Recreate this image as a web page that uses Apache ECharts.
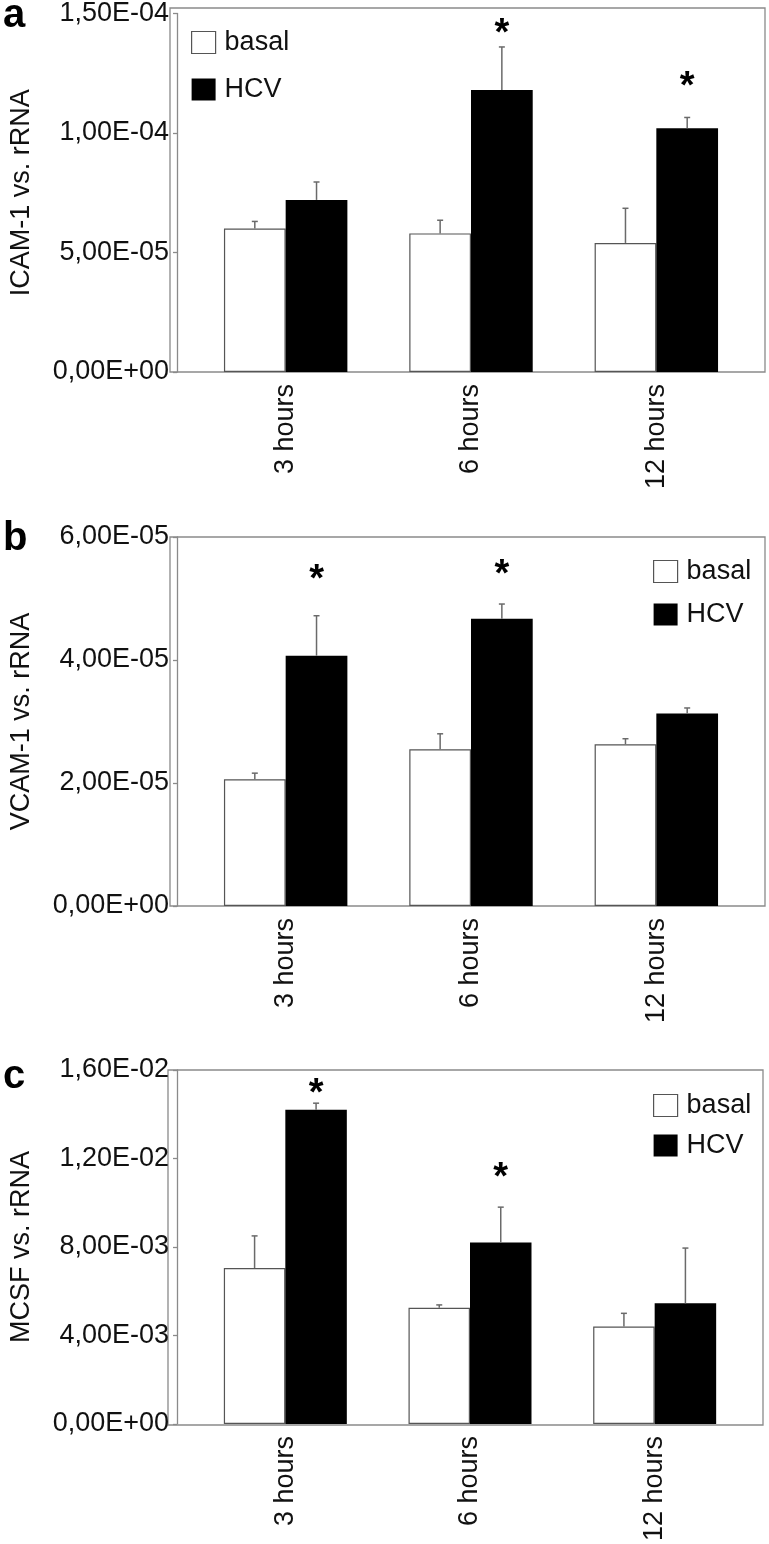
<!DOCTYPE html>
<html>
<head>
<meta charset="utf-8">
<script src="https://cdn.jsdelivr.net/npm/echarts@6/dist/echarts.min.js"></script>
<style>
  html, body { margin: 0; padding: 0; background: #ffffff; }
  #chart { width: 769px; height: 1544px; }
</style>
</head>
<body>
<div id="chart"></div>
<script>
// ---------------- DATA ----------------
const categories = ['3 hours', '6 hours', '12 hours'];
const seriesNames = ['basal', 'HCV'];

// Panel a: ICAM-1 vs. rRNA
const icamBasal    = [6.0e-5, 5.8e-5, 5.4e-5];
const icamBasalErr = [0.3e-5, 0.55e-5, 1.45e-5];
const icamHcv      = [7.2e-5, 11.8e-5, 10.2e-5];
const icamHcvErr   = [0.75e-5, 1.8e-5, 0.45e-5];
const icamStars    = [null, 14.2e-5, 12.0e-5];
const icamTicks    = [0, 5e-5, 1e-4, 1.5e-4];

// Panel b: VCAM-1 vs. rRNA
const vcamBasal    = [2.06e-5, 2.55e-5, 2.63e-5];
const vcamBasalErr = [0.1e-5, 0.25e-5, 0.09e-5];
const vcamHcv      = [4.07e-5, 4.67e-5, 3.13e-5];
const vcamHcvErr   = [0.65e-5, 0.24e-5, 0.09e-5];
const vcamStars    = [5.32e-5, 5.4e-5, null];
const vcamTicks    = [0, 2e-5, 4e-5, 6e-5];

// Panel c: MCSF vs. rRNA
const mcsfBasal    = [7.05e-3, 5.25e-3, 4.4e-3];
const mcsfBasalErr = [1.45e-3, 0.13e-3, 0.6e-3];
const mcsfHcv      = [14.2e-3, 8.2e-3, 5.45e-3];
const mcsfHcvErr   = [0.3e-3, 1.6e-3, 2.5e-3];
const mcsfStars    = [15.0e-3, 11.2e-3, null];
const mcsfTicks    = [0, 4e-3, 8e-3, 1.2e-2, 1.6e-2];

// ---------------- LAYOUT / STYLE ----------------
const FONT = '"Liberation Sans", Arial, Helvetica, sans-serif';
const FS = 27;
const GAP = 0.334;           // barCategoryGap fraction
const FRAME_PAD = 16;        // plot frame extends beyond category span
const panels = [
  { letter: 'a', title: 'ICAM-1 vs. rRNA', basal: icamBasal, basalErr: icamBasalErr, hcv: icamHcv, hcvErr: icamHcvErr,
    stars: icamStars, ticks: icamTicks, top: 8, height: 364, left: 186, width: 563,
    legend: { left: 191, top: 29, gap: 20 }, letterTop: -4 },
  { letter: 'b', title: 'VCAM-1 vs. rRNA', basal: vcamBasal, basalErr: vcamBasalErr, hcv: vcamHcv, hcvErr: vcamHcvErr,
    stars: vcamStars, ticks: vcamTicks, top: 537, height: 369, left: 186, width: 563,
    legend: { left: 653, top: 558, gap: 16 }, letterTop: 519 },
  { letter: 'c', title: 'MCSF vs. rRNA', basal: mcsfBasal, basalErr: mcsfBasalErr, hcv: mcsfHcv, hcvErr: mcsfHcvErr,
    stars: mcsfStars, ticks: mcsfTicks, top: 1070, height: 355, left: 184, width: 563,
    legend: { left: 653, top: 1092, gap: 13 }, letterTop: 1057 }
];

function sciLabel(v) {
  if (Math.abs(v) < 1e-15) return '0,00E+00';
  const s = Number(v).toExponential(2);
  const parts = s.split('e');
  const sign = parts[1][0] === '-' ? '-' : '+';
  let d = parts[1].replace(/[+-]/, '');
  if (d.length < 2) d = '0' + d;
  return parts[0].replace('.', ',') + 'E' + sign + d;
}

function errRender(side) {
  return function (params, api) {
    const i = api.value(0), v = api.value(1), e = api.value(2);
    const bw = api.size([1, 0])[0] * (1 - GAP) / 2;
    const p0 = api.coord([i, v]);
    const p1 = api.coord([i, v + e]);
    const x = p0[0] + side * bw / 2;
    const st = { stroke: '#6a6a6a', lineWidth: 1.5 };
    return { type: 'group', children: [
      { type: 'line', shape: { x1: x, y1: p0[1], x2: x, y2: p1[1] }, style: st },
      { type: 'line', shape: { x1: x - 3, y1: p1[1], x2: x + 3, y2: p1[1] }, style: st }
    ]};
  };
}

function starRender(params, api) {
  const i = api.value(0), v = api.value(1);
  const bw = api.size([1, 0])[0] * (1 - GAP) / 2;
  const p = api.coord([i, v]);
  return { type: 'text', x: p[0] + bw / 2, y: p[1] + 2,
    style: { text: '*', fontSize: 38, fontWeight: 'bold', fontFamily: FONT, fill: '#000',
             align: 'center', verticalAlign: 'middle' } };
}

const grid = [], xAxis = [], yAxis = [], series = [], legend = [], graphic = [];

panels.forEach((p, k) => {
  grid.push({ left: p.left, top: p.top, width: p.width, height: p.height, containLabel: false });
  xAxis.push({
    type: 'category', gridIndex: k, data: categories,
    axisLine: { show: false }, axisTick: { show: false },
    axisLabel: { rotate: 90, margin: 12, fontSize: FS, color: '#111', fontFamily: FONT, interval: 0 }
  });
  const max = p.ticks[p.ticks.length - 1];
  yAxis.push({
    type: 'value', gridIndex: k, min: 0, max: max, interval: p.ticks[1] - p.ticks[0],
    offset: FRAME_PAD,
    name: p.title, nameLocation: 'middle', nameGap: 142, nameRotate: 90,
    nameTextStyle: { fontSize: FS, color: '#111', fontFamily: FONT },
    axisLine: { show: true, lineStyle: { color: '#8a8a8a', width: 1.3 } },
    axisTick: { show: true, inside: false, length: 4, lineStyle: { color: '#8a8a8a', width: 1.3 } },
    splitLine: { show: false },
    axisLabel: { fontSize: FS, color: '#111', fontFamily: FONT, margin: 8, formatter: sciLabel }
  });
  series.push({
    name: 'basal', type: 'bar', xAxisIndex: k, yAxisIndex: k, data: p.basal,
    barGap: '0%', barCategoryGap: (GAP * 100) + '%',
    itemStyle: { color: '#ffffff', borderColor: '#555555', borderWidth: 1.2 },
    emphasis: { disabled: true }, z: 2
  });
  series.push({
    name: 'HCV', type: 'bar', xAxisIndex: k, yAxisIndex: k, data: p.hcv,
    barGap: '0%', barCategoryGap: (GAP * 100) + '%',
    itemStyle: { color: '#000000', borderColor: '#000000', borderWidth: 0 },
    emphasis: { disabled: true }, z: 2
  });
  series.push({
    type: 'custom', xAxisIndex: k, yAxisIndex: k, z: 5, silent: true,
    renderItem: errRender(-1),
    data: p.basal.map((v, i) => [i, v, p.basalErr[i]])
  });
  series.push({
    type: 'custom', xAxisIndex: k, yAxisIndex: k, z: 5, silent: true,
    renderItem: errRender(1),
    data: p.hcv.map((v, i) => [i, v, p.hcvErr[i]])
  });
  series.push({
    type: 'custom', xAxisIndex: k, yAxisIndex: k, z: 6, silent: true, clip: false,
    renderItem: starRender,
    data: p.stars.map((v, i) => [i, v]).filter(d => d[1] !== null)
  });
  legend.push({
    orient: 'vertical', left: p.legend.left, top: p.legend.top, padding: 0,
    itemWidth: 24, itemHeight: 22, itemGap: p.legend.gap, icon: 'rect',
    selectedMode: false,
    textStyle: { fontSize: FS, color: '#111', fontFamily: FONT, padding: [0, 0, 0, 4] },
    data: [
      { name: 'basal', itemStyle: { color: '#ffffff', borderColor: '#555555', borderWidth: 1.2 } },
      { name: 'HCV', itemStyle: { color: '#000000', borderWidth: 0 } }
    ]
  });
  // plot frame
  graphic.push({
    type: 'rect', silent: true, z: 0,
    shape: { x: p.left - FRAME_PAD, y: p.top, width: p.width + 2 * FRAME_PAD, height: p.height },
    style: { fill: 'none', stroke: '#8a8a8a', lineWidth: 1.3 }
  });
  graphic.push({
    type: 'text', silent: true, left: 3, top: p.letterTop,
    style: { text: p.letter, fontSize: 40, fontWeight: 'bold', fontFamily: FONT, fill: '#000' }
  });
});

const chart = echarts.init(document.getElementById('chart'), null, { renderer: 'canvas' });
chart.setOption({
  backgroundColor: '#ffffff',
  animation: false,
  textStyle: { fontFamily: FONT },
  grid, xAxis, yAxis, series, legend, graphic
});
</script>
</body>
</html>
